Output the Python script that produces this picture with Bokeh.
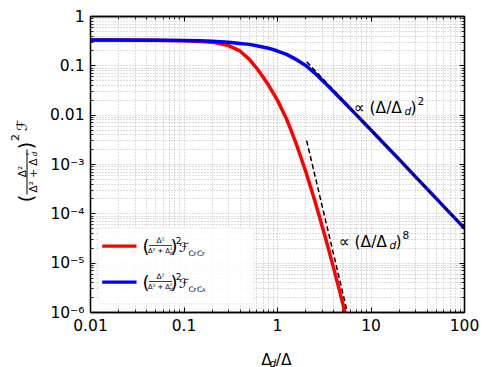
import math
from bokeh.plotting import figure
from bokeh.layouts import row, column
from bokeh.models import FixedTicker, LogAxis, Label, BoxAnnotation
from bokeh.embed import file_html
from bokeh.resources import INLINE

# ---------------- data ----------------
x_ticks = [0.01, 0.1, 1, 10, 100]
x_tick_labels = ["0.01", "0.1", "1", "10", "100"]
y_ticks = [1e-6, 1e-5, 1e-4, 1e-3, 0.01, 0.1, 1]
y_tick_labels = ["10⁻⁶", "10⁻⁵", "10⁻⁴", "10⁻³", "0.01", "0.1", "1"]

# red curve: (Δ²/(Δ²+Δd²))² F_CFCF
cfcf_x = [0.01, 0.02, 0.05, 0.1, 0.15, 0.2, 0.25, 0.3, 0.4, 0.5, 0.6, 0.7, 0.8, 0.9,
          1.0, 1.1, 1.25, 1.4, 1.6, 1.8, 2.0, 2.25, 2.5, 2.8, 3.2, 3.6, 4.0, 4.5,
          5.0, 5.6, 6.3]
cfcf_y = [0.3334, 0.333, 0.3296, 0.3236, 0.3107, 0.302, 0.276, 0.257, 0.198, 0.1355,
          0.0893, 0.0594, 0.0407, 0.028, 0.01995, 0.01377, 0.00836, 0.00484, 0.0025,
          0.00131, 7.31e-4, 3.57e-4, 1.87e-4, 8.9e-5, 3.67e-5, 1.62e-5, 7.7e-6,
          3.26e-6, 1.5e-6, 6.5e-7, 2.75e-7]

# blue curve: (Δ²/(Δ²+Δd²))² F_CFCA
cfca_x = [0.01, 0.02, 0.05, 0.1, 0.15, 0.2, 0.3, 0.4, 0.5, 0.6, 0.8, 1.0, 1.25, 1.6,
          2.0, 2.5, 3.2, 4.0, 5.0, 6.3, 8.0, 10, 15, 20, 30, 50, 70, 100]
cfca_y = [0.3334, 0.3331, 0.3305, 0.3273, 0.3208, 0.3162, 0.3006, 0.285, 0.2723,
          0.2545, 0.228, 0.1995, 0.1706, 0.1334, 0.1019, 0.0713, 0.0457, 0.0299,
          0.01936, 0.01236, 0.00774, 0.00501, 0.002244, 0.001268, 5.62e-4, 2.03e-4,
          1.035e-4, 5.07e-5]

# asymptotes (dashed)
slope8_x = [2.05, 6.0]
slope8_y = [3.05e-3, 5.7e-7]
slope2_x = [2.05, 100]
slope2_y = [0.121, 5.1e-5]

FONT = "DejaVu Sans"
YLAB_W = 40      # width of the strip holding the y title
MAIN_H = 338     # height of the main figure (x title strip below it)

p = figure(width=488 - YLAB_W, height=MAIN_H, x_axis_type="log", y_axis_type="log",
           x_range=(0.01, 100), y_range=(1e-6, 1), title=None,
           output_backend="svg", toolbar_location=None,
           min_border_left=90 - YLAB_W, min_border_right=24, min_border_top=16,
           min_border_bottom=MAIN_H - 312)
p.background_fill_color = "white"
p.border_fill_color = "white"
p.outline_line_color = "black"
p.outline_line_width = 1.3


def minors(lo_exp, hi_exp):
    out = []
    for e in range(lo_exp, hi_exp):
        for k in range(2, 10):
            out.append(k * 10.0 ** e)
    return out


xt = FixedTicker(ticks=x_ticks, minor_ticks=minors(-2, 2))
yt = FixedTicker(ticks=y_ticks, minor_ticks=minors(-6, 0))

bottom_ax = p.xaxis[0]
left_ax = p.yaxis[0]
bottom_ax.ticker = xt
left_ax.ticker = yt
bottom_ax.major_label_overrides = dict(zip(x_ticks, x_tick_labels))
left_ax.major_label_overrides = dict(zip(y_ticks, y_tick_labels))

top_ax = LogAxis(ticker=xt, major_label_overrides={t: "" for t in x_ticks})
right_ax = LogAxis(ticker=yt, major_label_overrides={t: "" for t in y_ticks})
p.add_layout(top_ax, "above")
p.add_layout(right_ax, "right")

for ax in [bottom_ax, left_ax, top_ax, right_ax]:
    ax.axis_line_color = "black"
    ax.axis_line_width = 1.3
    ax.major_tick_in = 5
    ax.major_tick_out = 0
    ax.minor_tick_in = 3
    ax.minor_tick_out = 0
    ax.major_tick_line_color = "black"
    ax.minor_tick_line_color = "black"
    ax.major_tick_line_width = 1
    ax.minor_tick_line_width = 0.8
    ax.major_label_text_font = FONT
    ax.major_label_text_font_size = "15.5px"
    ax.major_label_text_color = "black"
    ax.major_label_standoff = 6

for g in [p.xgrid[0], p.ygrid[0]]:
    g.grid_line_color = "#a8a8a8"
    g.grid_line_dash = "1 2"
    g.grid_line_width = 0.8
    g.minor_grid_line_color = "#a8a8a8"
    g.minor_grid_line_dash = "1 2"
    g.minor_grid_line_width = 0.8

# curves
p.line(cfcf_x, cfcf_y, line_color="#ff0000", line_width=3.5)
p.line(cfca_x, cfca_y, line_color="#0000ff", line_width=3.5)
p.line(slope2_x, slope2_y, line_color="black", line_width=1.5, line_dash="5 3")
p.line(slope8_x, slope8_y, line_color="black", line_width=1.5, line_dash="5 3")


# -------- helpers to place texts at picture pixel positions --------
def px2x(px):
    return 10 ** ((px - 90) / 93.5 - 2)


def px2y(py):
    return 10 ** (-(py - 16) / 49.333)


def put(fig, text, px, py, size, align="center", baseline="middle", angle=0.0,
        italic=False, direct=False):
    if direct:
        x, y = px, py
    else:
        x, y = px2x(px), px2y(py)
    fig.add_layout(Label(x=x, y=y, text=text, text_font=FONT,
                         text_font_size=f"{size}px", text_align=align,
                         text_baseline=baseline, angle=angle,
                         text_font_style="italic" if italic else "normal",
                         text_color="black"))


def box(fig, x0, x1, y0, y1, color="black", direct=False):
    if direct:
        kw = dict(left=x0, right=x1, top=y0, bottom=y1)
    else:
        kw = dict(left=px2x(x0), right=px2x(x1), top=px2y(y0), bottom=px2y(y1))
    fig.add_layout(BoxAnnotation(fill_color=color, fill_alpha=1, line_color=None, **kw))


def text_strip(w, h, x0, y0):
    f = figure(width=w, height=h, x_range=(x0, x0 + w), y_range=(y0 + h, y0),
               title=None, output_backend="svg", toolbar_location=None,
               x_axis_location=None, y_axis_location=None,
               min_border=0)
    f.outline_line_color = None
    f.grid.visible = False
    f.background_fill_color = "white"
    f.border_fill_color = "white"
    return f


# annotation: ∝ (Δ/Δd)²
put(p, "∝ (Δ/Δ", 353, 107, 15.5, align="left", baseline="alphabetic")
put(p, "d", 404, 110, 10.5, align="left", baseline="alphabetic", italic=True)
put(p, ")", 410, 107, 15.5, align="left", baseline="alphabetic")
put(p, "2", 417, 100, 10.5, align="left", baseline="alphabetic")

# annotation: ∝ (Δ/Δd)⁸
put(p, "∝ (Δ/Δ", 338, 241, 15.5, align="left", baseline="alphabetic")
put(p, "d", 389, 244, 10.5, align="left", baseline="alphabetic", italic=True)
put(p, ")", 395, 241, 15.5, align="left", baseline="alphabetic")
put(p, "8", 402, 234, 10.5, align="left", baseline="alphabetic")

# legend box
p.add_layout(BoxAnnotation(left=px2x(97.3), right=px2x(253.3), top=px2y(227.3),
                           bottom=px2y(303.3), fill_color="white", fill_alpha=0.85,
                           line_color="#cccccc", line_width=1, border_radius=4))

for yc, col, sub in [(245.7, "#ff0000", "F"), (281.7, "#0000ff", "A")]:
    box(p, 101.7, 136, yc - 1.6, yc + 1.6, color=col)
    put(p, "(", 145.5, yc, 18)
    put(p, "Δ²", 160, yc - 6, 7.5)
    box(p, 148.5, 171.5, yc - 1.2, yc - 0.4)
    put(p, "Δ² + Δ", 158.5, yc + 5, 6.8)
    put(p, "²", 170.5, yc + 3, 5)
    put(p, "d", 170.5, yc + 7, 5, italic=True)
    put(p, ")", 173.5, yc, 18)
    put(p, "2", 178, yc - 6, 9)
    put(p, "ℱ", 183.5, yc + 1, 13)
    put(p, "C", 188, yc + 7, 7.5, align="left", baseline="alphabetic")
    put(p, "F", 193, yc + 8, 5, align="left", baseline="alphabetic")
    put(p, "C", 196.5, yc + 7, 7.5, align="left", baseline="alphabetic")
    put(p, sub, 201.5, yc + 8, 5, align="left", baseline="alphabetic")

# y title strip (coordinates = picture pixels)
ylab = text_strip(YLAB_W, 367, 0, 0)
R = math.pi / 2
put(ylab, "(", 25, 198, 19, angle=R, direct=True)
put(ylab, "Δ²", 21.5, 171, 10.5, angle=R, direct=True)
box(ylab, 26, 27, 149, 194, direct=True)
put(ylab, "Δ² + Δ", 32, 175, 10.5, angle=R, direct=True)
put(ylab, "²", 28.5, 153.5, 7, angle=R, direct=True)
put(ylab, "d", 34.5, 153.5, 7, angle=R, italic=True, direct=True)
put(ylab, ")", 25, 145, 19, angle=R, direct=True)
put(ylab, "2", 14, 137, 11, angle=R, direct=True)
put(ylab, "ℱ", 21, 125, 14, angle=R, direct=True)

# x title strip (coordinates = picture pixels, corrected for the observed offset)
xlab = text_strip(488 - YLAB_W, 367 - MAIN_H, YLAB_W, MAIN_H)
put(xlab, "Δ", 251, 359, 15.5, align="center", baseline="middle", direct=True)
put(xlab, "d", 258.5, 362, 10.5, align="center", baseline="middle", italic=True, direct=True)
put(xlab, "/Δ", 271.5, 359, 15.5, align="center", baseline="middle", direct=True)

layout = row(ylab, column(p, xlab, spacing=0), spacing=0)

open("out.html", "w").write(file_html(layout, INLINE))
